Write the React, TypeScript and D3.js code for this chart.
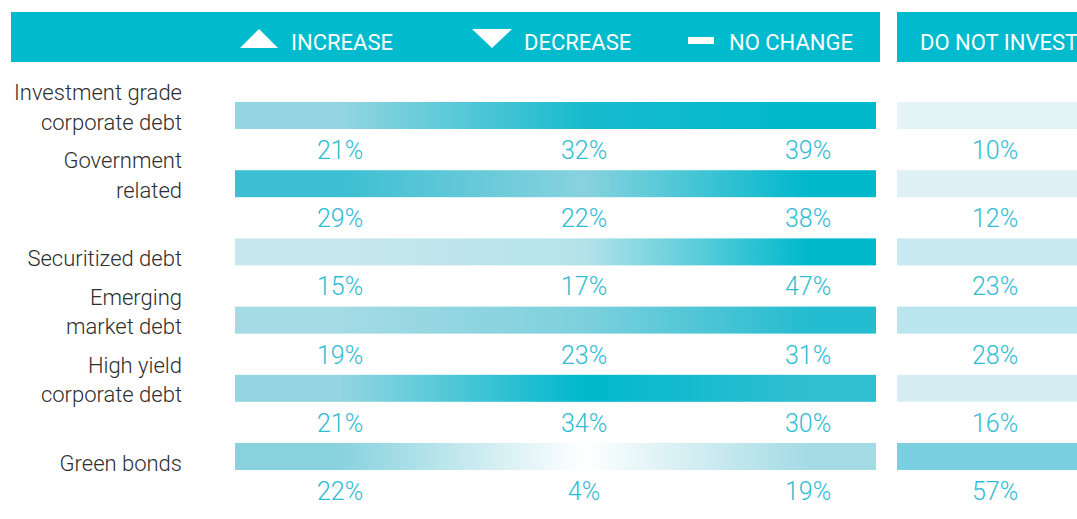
import React from "react";
import * as d3 from "d3";

// survey answers, share of respondents (%)
const categories = [
  "Investment grade corporate debt",
  "Government related",
  "Securitized debt",
  "Emerging market debt",
  "High yield corporate debt",
  "Green bonds",
];
const categoryLines = [
  ["Investment grade", "corporate debt"],
  ["Government", "related"],
  ["Securitized debt"],
  ["Emerging", "market debt"],
  ["High yield", "corporate debt"],
  ["Green bonds"],
];
const columns = ["INCREASE", "DECREASE", "NO CHANGE"];
const increase = [21, 29, 15, 19, 21, 22];
const decrease = [32, 22, 17, 23, 34, 4];
const noChange = [39, 38, 47, 31, 30, 19];
const doNotInvest = [10, 12, 23, 28, 16, 57];
const dniLabel = "DO NOT INVEST";

const W = 1077;
const H = 519;
const TEAL = "#00bacd";
const BAR_H = 27;
const barX0 = 235;
const barX1 = 876;
const dniX0 = 897;

const App = () => {
  const series = [increase, decrease, noChange];

  const y = d3.scalePoint<string>().domain(categories).range([102, 443]);
  const colX = d3.scaleOrdinal<string, number>().domain(columns).range([340, 584, 808]);
  const dniX = 995;

  // heat colour of the three answer columns
  const heat = d3
    .scaleLinear<string>()
    .domain([4, 15, 21, 29, 34])
    .range(["#ffffff", "#c6e8ee", "#93d5e0", "#3cbfd2", "#00b8cc"])
    .clamp(true);
  const dniColor = d3
    .scaleLinear<string>()
    .domain([10, 57])
    .range(["#e4f3f6", "#7acfe0"])
    .clamp(true);

  const offset = d3.scaleLinear().domain([barX0, barX1]).range([0, 1]);

  return (
    <svg
      width={W}
      height={H}
      style={{ position: "absolute", left: 0, top: 0, fontFamily: "Roboto, sans-serif" }}
    >
      <defs>
        {categories.map((c, i) => (
          <linearGradient
            key={c}
            id={`grad-${i}`}
            gradientUnits="userSpaceOnUse"
            x1={barX0}
            x2={barX1}
            y1={0}
            y2={0}
          >
            {columns.map((col, j) => (
              <stop
                key={col}
                offset={offset(colX(col))}
                stopColor={heat(series[j][i])}
              />
            ))}
          </linearGradient>
        ))}
      </defs>

      {/* header */}
      <rect x={11} y={12} width={barX1 + 4 - 11} height={50} fill={TEAL} />
      <rect x={dniX0} y={12} width={W - dniX0 + 10} height={50} fill={TEAL} />
      <g fill="#fff" fontSize={22}>
        <path d="M240,48L278,48L259,29Z" />
        <text x={291} y={50}>{columns[0]}</text>
        <path d="M472,29L512,29L492,48Z" />
        <text x={524} y={50}>{columns[1]}</text>
        <rect x={688} y={37} width={26} height={7} />
        <text x={729} y={50}>{columns[2]}</text>
        <text x={920} y={50}>{dniLabel}</text>
      </g>

      {categories.map((c, i) => {
        const top = y(c) as number;
        const lines = categoryLines[i];
        return (
          <g key={c}>
            <rect x={barX0} y={top} width={barX1 - barX0} height={BAR_H} fill={`url(#grad-${i})`} />
            <rect x={dniX0} y={top} width={W - dniX0} height={BAR_H} fill={dniColor(doNotInvest[i])} />
            <g fontSize={22} fontWeight={300} fill="#2e2e2e" textAnchor="end">
              {lines.map((t, k) => (
                <text key={t} x={182} y={top + 27.5 - (lines.length - 1 - k) * 29.5}>
                  {t}
                </text>
              ))}
            </g>
            <g fontSize={25} fontWeight={300} fill="#2fbcd4" textAnchor="middle">
              {columns.map((col, j) => (
                <text key={col} x={colX(col)} y={top + BAR_H + 30}>
                  {series[j][i]}%
                </text>
              ))}
              <text x={dniX} y={top + BAR_H + 30}>
                {doNotInvest[i]}%
              </text>
            </g>
          </g>
        );
      })}
    </svg>
  );
};

export default App;
